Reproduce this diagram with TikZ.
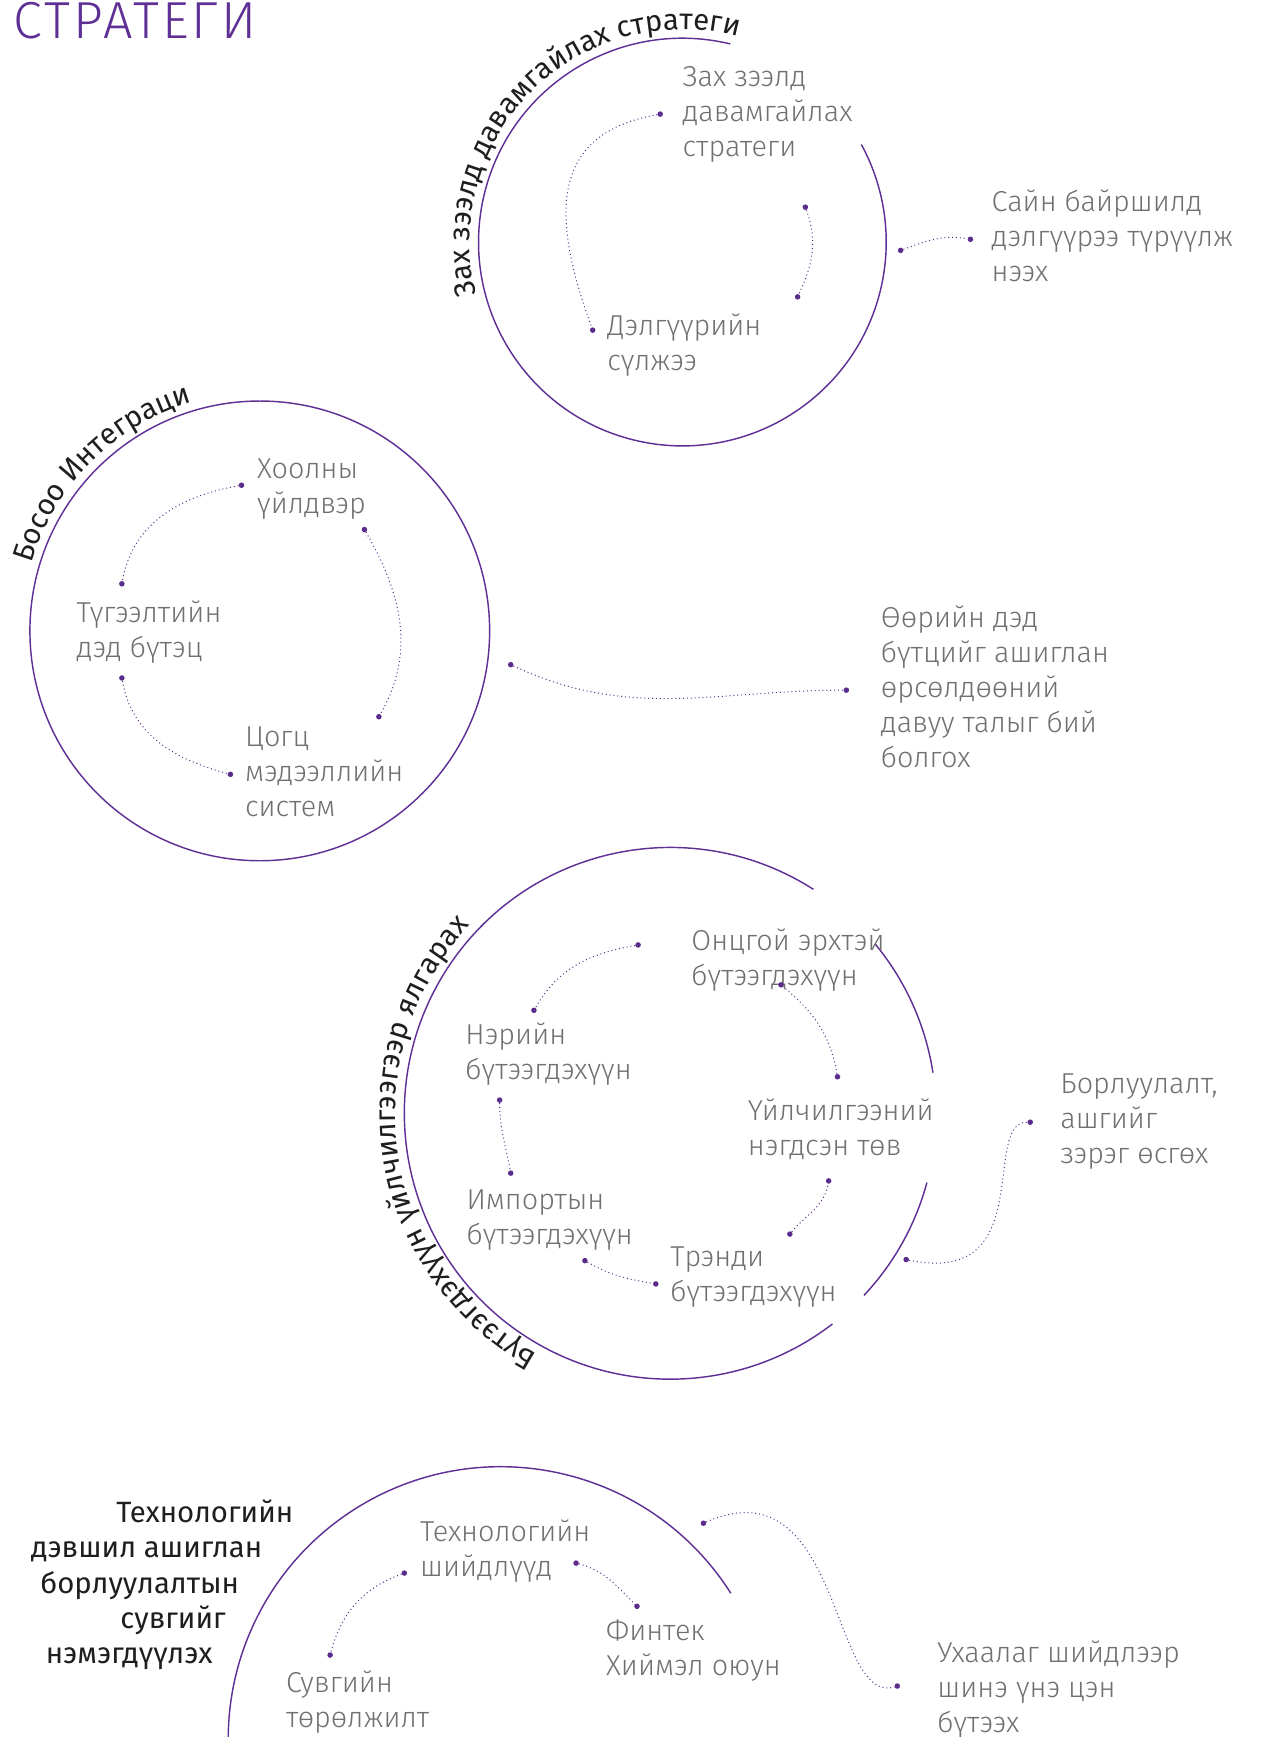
\documentclass[tikz,border=0pt]{standalone}
\usepackage{fontspec}
\IfFontExistsTF{FiraSans-Light.otf}{\newfontfamily\lightfont{FiraSans-Light.otf}}{%
  \IfFontExistsTF{Fira Sans Light}{\newfontfamily\lightfont{Fira Sans Light}}{%
    \newfontfamily\lightfont{Fira Sans}}}
\newfontfamily\plainfont{Fira Sans}
\usetikzlibrary{decorations.text}
\definecolor{strat}{HTML}{5E2F95}
\definecolor{dotc}{HTML}{5A2D8C}
\definecolor{txt}{HTML}{707070}
\definecolor{ink}{HTML}{1E1E1E}

\tikzset{
  lbl/.style={anchor=north west, inner sep=0, align=left, text=txt,
    font=\lightfont\fontsize{26}{31.5}\selectfont},
  pt/.style={circle, fill=dotc, inner sep=0, minimum size=5pt},
  link/.style={draw=dotc, line width=0.9pt, dash pattern=on 0.9pt off 2.6pt},
  ring/.style={draw=strat, line width=1.3pt},
  side/.style={anchor=base east, inner sep=0, text=ink,
    font=\plainfont\fontsize{26.5}{31}\selectfont},
  bend text/.style={decorate, decoration={text along path, text align=center,
    text={|\plainfont\fontsize{26.5}{30}\selectfont\color{ink}|#1}}},
}

\begin{document}
\begin{tikzpicture}[x=1pt,y=1pt]
  \useasboundingbox (0,0) rectangle (1139,-1568);

  \node[anchor=base west, inner sep=0, text=strat,
    font=\lightfont\fontsize{47}{47}\selectfont\addfontfeatures{LetterSpace=6}]
    (title) at (12,-35) {СТРАТЕГИ};

  % circle centres
  \coordinate (c1) at (616,-218.5);
  \coordinate (c2) at (234.5,-569.5);
  \coordinate (c3) at (605,-1005);
  \coordinate (c4) at (452,-1570);

  % rings
  \draw[ring] (c1) ++(76.4:184) arc[start angle=76.4, end angle=388.6, radius=184];
  \draw[ring] (c2) circle[radius=207.5];
  \draw[ring] (c3) ++(57.4:240) arc[start angle=57.4, end angle=307.6, radius=240];
  \draw[ring] (c3) ++(8.8:240) arc[start angle=8.8, end angle=39.6, radius=240];
  \draw[ring] (c3) ++(-43.2:240) arc[start angle=-43.2, end angle=-15.1, radius=240];
  \draw[ring] (c4) ++(32.4:246) arc[start angle=32.4, end angle=186, radius=246];

  % ring titles
  \path[bend text={Зах зээлд давамгайлах стратеги}]
    (c1) ++(214.5:192) arc[start angle=214.5, end angle=54.5, radius=192];
  \path[bend text={Босоо Интеграци}]
    (c2) ++(215:215) arc[start angle=215, end angle=55, radius=215];
  \path[bend text={Бүтээгдэхүүн үйлчилгээгээр ялгарах}]
    (c3) ++(269:248) arc[start angle=269, end angle=109, radius=248];

  % first ring
  \path
  (616,-60) node[lbl] (zah) {Зах зээлд\\давамгайлах\\стратеги}
  (548,-283) node[lbl] (delg) {Дэлгүүрийн\\сүлжээ}
  (895,-171) node[lbl] (sain) {Сайн байршилд\\дэлгүүрээ түрүүлж\\нээх}
  (596,-103) node[pt] (p11) {}
  (535,-298) node[pt] (p12) {}
  (727,-187) node[pt] (p13) {}
  (720,-268) node[pt] (p14) {}
  (813,-226) node[pt] (p15) {}
  (876,-216) node[pt] (p16) {}
  ;

  % second ring
  \path
  (232,-414) node[lbl] (hool) {Хоолны\\үйлдвэр}
  (69,-542) node[lbl] (tug) {Түгээлтийн\\дэд бүтэц}
  (221,-656) node[lbl] (tsogts) {Цогц\\мэдээллийн\\систем}
  (795,-547) node[lbl] (uuriin) {Өөрийн дэд\\бүтцийг ашиглан\\өрсөлдөөний\\давуу талыг бий\\болгох}
  (218,-438) node[pt] (p21) {}
  (110,-527) node[pt] (p22) {}
  (110,-612) node[pt] (p23) {}
  (208,-699) node[pt] (p24) {}
  (329,-478) node[pt] (p25) {}
  (342,-647) node[pt] (p26) {}
  (461,-600) node[pt] (p27) {}
  (764,-623) node[pt] (p28) {}
  ;

  % third ring
  \path
  (624,-838) node[lbl] (ontsgoi) {Онцгой эрхтэй\\бүтээгдэхүүн}
  (420,-923) node[lbl] (neriin) {Нэрийн\\бүтээгдэхүүн}
  (421,-1074) node[lbl] (import) {Импортын\\бүтээгдэхүүн}
  (605,-1125) node[lbl] (trendi) {Трэнди\\бүтээгдэхүүн}
  (675,-992) node[lbl] (uilch) {Үйлчилгээний\\нэгдсэн төв}
  (957,-969) node[lbl] (borl) {Борлуулалт,\\ашгийг\\зэрэг өсгөх}
  (576,-853) node[pt] (p31) {}
  (482,-912) node[pt] (p32) {}
  (451,-993) node[pt] (p33) {}
  (461,-1059) node[pt] (p34) {}
  (528,-1138) node[pt] (p35) {}
  (592,-1159) node[pt] (p36) {}
  (713,-1114) node[pt] (p37) {}
  (748,-1066) node[pt] (p38) {}
  (756,-972) node[pt] (p39) {}
  (705,-889) node[pt] (p310) {}
  (818,-1137) node[pt] (p311) {}
  (930,-1013) node[pt] (p312) {}
  ;

  % fourth ring
  \path
  (265,-1374) node[side] (s1) {Технологийн}
  (237,-1406) node[side] (s2) {дэвшил ашиглан}
  (216,-1438) node[side] (s3) {борлуулалтын}
  (204,-1470) node[side] (s4) {сувгийг}
  (192,-1502) node[side] (s5) {нэмэгдүүлэх}
  (379,-1372) node[lbl] (tech) {Технологийн\\шийдлүүд}
  (258,-1508) node[lbl] (suv) {Сувгийн\\төрөлжилт}
  (547,-1462) node[lbl] (fin) {Финтек\\Хиймэл оюун}
  (846,-1481) node[lbl] (uhaa) {Ухаалаг шийдлээр\\шинэ үнэ цэн\\бүтээх}
  (365,-1420) node[pt] (p41) {}
  (298,-1494) node[pt] (p42) {}
  (520,-1411) node[pt] (p43) {}
  (575,-1450) node[pt] (p44) {}
  (635,-1375) node[pt] (p45) {}
  (810,-1522) node[pt] (p46) {}
  ;

  \draw[link] (p11) to[out=190,in=110,looseness=1.3] (p12);
  \draw[link] (p13) to[out=-70,in=65] (p14);
  \draw[link] (p15) to[out=20,in=170] (p16);

  \draw[link] (p21) to[out=190,in=80] (p22);
  \draw[link] (p23) to[out=-80,in=165] (p24);
  \draw[link] (p25) to[out=-60,in=60] (p26);
  \draw[link] (p27) to[out=-25,in=180] (p28);

  \draw[link] (p31) to[out=190,in=60] (p32);
  \draw[link] (p33) to[out=-90,in=100] (p34);
  \draw[link] (p35) to[out=-30,in=170] (p36);
  \draw[link] (p37) to[out=50,in=-100] (p38);
  \draw[link] (p39) to[out=100,in=-40] (p310);
  \draw[link] (p311) .. controls +(120,-25) and +(-45,0) .. (p312);

  \draw[link] (p41) to[out=200,in=75] (p42);
  \draw[link] (p43) to[out=-15,in=135] (p44);
  \draw[link] (p45) .. controls +(125,55) and +(-60,-18) .. (p46);
\end{tikzpicture}
\end{document}
